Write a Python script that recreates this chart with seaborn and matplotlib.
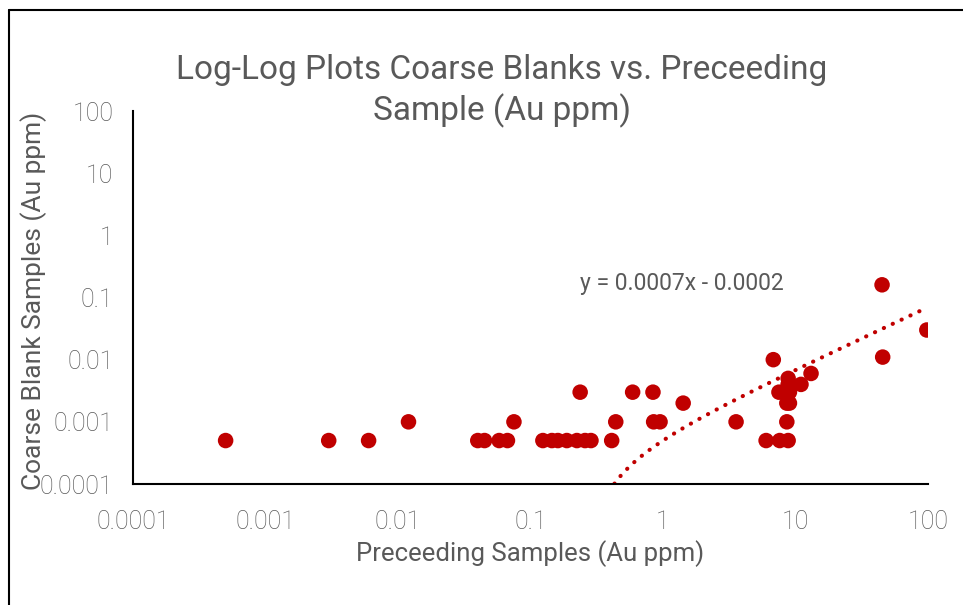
import numpy as np
import pandas as pd
import matplotlib
matplotlib.use("Agg")
import matplotlib.pyplot as plt
import seaborn as sns
from matplotlib.lines import Line2D
from matplotlib.ticker import FixedLocator, FuncFormatter

# preceeding sample vs coarse blank values (Au ppm)
preceeding = [0.0005, 0.003, 0.006, 0.012, 0.04, 0.045, 0.058, 0.067, 0.075,
              0.124, 0.145, 0.161, 0.188, 0.224, 0.258, 0.286, 0.237, 0.41,
              0.44, 0.59, 0.84, 0.85, 0.95, 1.42, 3.56, 6.0, 6.8, 7.6, 8.8,
              8.6, 8.6, 9.0, 7.5, 9.0, 8.8, 8.8, 11.0, 13.1, 45, 45.5, 98]
blank = [0.0005, 0.0005, 0.0005, 0.001, 0.0005, 0.0005, 0.0005, 0.0005, 0.001,
         0.0005, 0.0005, 0.0005, 0.0005, 0.0005, 0.0005, 0.0005, 0.003, 0.0005,
         0.001, 0.003, 0.003, 0.001, 0.001, 0.002, 0.001, 0.0005, 0.01, 0.0005, 0.0005,
         0.001, 0.002, 0.002, 0.003, 0.003, 0.004, 0.005, 0.004, 0.006, 0.16, 0.011, 0.03]

# linear trendline from the chart: y = 0.0007x - 0.0002
slope, intercept = 0.0007, -0.0002
tick_vals = [0.0001, 0.001, 0.01, 0.1, 1, 10, 100]
tick_labels = ["0.0001", "0.001", "0.01", "0.1", "1", "10", "100"]

df = pd.DataFrame({"x": preceeding, "y": blank})

sns.set_style("white")
plt.rcParams['font.family'] = ['Roboto', 'DejaVu Sans']

red = "#C00000"
grey = "#595959"

fig = plt.figure(figsize=(9.63, 6.05), dpi=100)
ax = fig.add_axes([133/963, 1 - 484/605, (928-133)/963, (484-111)/605])

sns.scatterplot(data=df, x="x", y="y", ax=ax, color=red, s=125,
                edgecolor="none", linewidth=0, zorder=3)

# trendline across the x range (clipped by the log axis)
tx = np.logspace(np.log10(0.43), 2, 200)
ty = slope * tx + intercept
ax.plot(tx, ty, color=red, linewidth=3, linestyle=(0, (0.05, 2.3)),
        dash_capstyle="round", zorder=2)

ax.set_xscale("log")
ax.set_yscale("log")
ax.set_xlim(0.0001, 100)
ax.set_ylim(0.0001, 100)

fmt = FuncFormatter(lambda v, p: tick_labels[tick_vals.index(v)] if v in tick_vals else "")
for axis in (ax.xaxis, ax.yaxis):
    axis.set_major_locator(FixedLocator(tick_vals))
    axis.set_major_formatter(fmt)
    axis.set_minor_locator(FixedLocator([]))

ax.tick_params(axis="both", which="major", direction="out", length=6, width=1.5,
               color="black", labelsize=18, labelcolor=grey)
ax.tick_params(axis="x", pad=13)
ax.tick_params(axis="y", pad=8)
for lab in ax.get_xticklabels() + ax.get_yticklabels():
    lab.set_fontweight("light")

for s in ["top", "right"]:
    ax.spines[s].set_visible(False)
for s in ["left", "bottom"]:
    ax.spines[s].set_color("black")
    ax.spines[s].set_linewidth(1.5)

ax.set_xlabel("Preceeding Samples (Au ppm)", fontsize=18.5, color=grey)
ax.set_ylabel("Coarse Blank Samples (Au ppm)", fontsize=19, color=grey)
ax.xaxis.set_label_coords(0.5, -0.15)
ax.yaxis.set_label_coords(-0.108, 0.49)

fig.text(0.521, 1 - 91/605, "Log-Log Plots Coarse Blanks vs. Preceeding\nSample (Au ppm)",
         ha="center", va="center", fontsize=24, color=grey, linespacing=1.25)

ax.text(0.237, 0.17, "y = 0.0007x - 0.0002", fontsize=16.5, color=grey, ha="left",
        va="center", transform=ax.transData)

# frame of the chart area (left and top edges visible)
fig.add_artist(Line2D([9/963, 9/963], [0, 1 - 10/605], color="black", linewidth=1.5,
                      transform=fig.transFigure))
fig.add_artist(Line2D([9/963, 1], [1 - 10/605, 1 - 10/605], color="black", linewidth=1.5,
                      transform=fig.transFigure))

fig.savefig("out.png", dpi=100, facecolor="white")
